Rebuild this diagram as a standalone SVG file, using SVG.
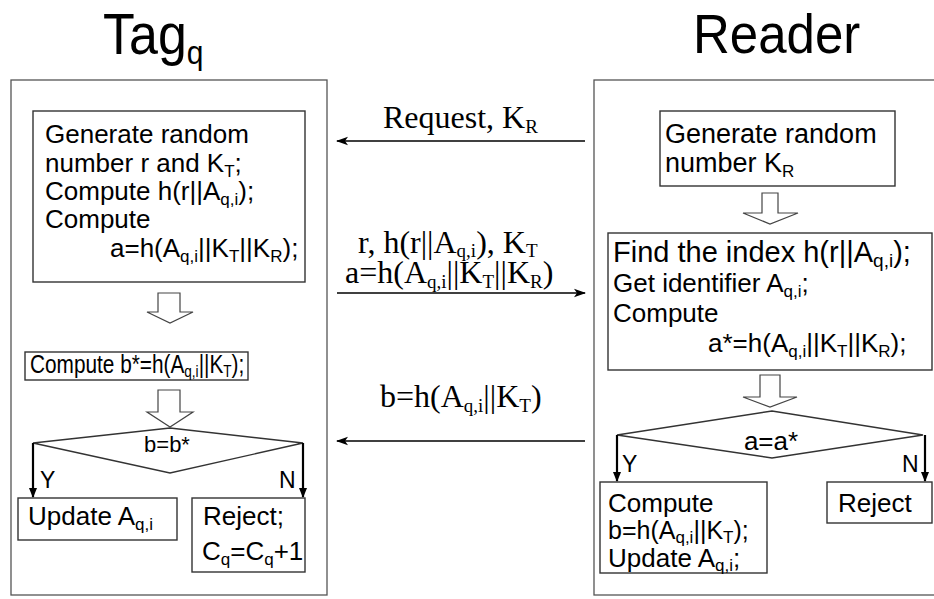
<svg xmlns="http://www.w3.org/2000/svg" width="934" height="599" viewBox="0 0 934 599">
<defs>
<style>
.bg{fill:#fff}
.outer{fill:none;stroke:#555;stroke-width:1.3}
.box{fill:#fff;stroke:#333;stroke-width:1.4}
.blk{fill:#fff;stroke:#444;stroke-width:1.2}
.t{font-family:"Liberation Sans",Arial,sans-serif;font-size:26px;fill:#000}
.tm{font-family:"Liberation Serif","Times New Roman",serif;font-size:32px;fill:#000}
.s{font-size:17px}
.sm{font-size:19px}
.yl{font-size:23px}
.msg{stroke:#000;stroke-width:1.6;fill:none}
.yn{stroke:#000;stroke-width:2.2;fill:none}
.title{font-family:"Liberation Sans",Arial,sans-serif;font-size:52px;fill:#000}
</style>
<marker id="ah" markerWidth="12" markerHeight="10" refX="11" refY="5" orient="auto" markerUnits="userSpaceOnUse">
<path d="M0,0.8 L12,5 L0,9.2 L3,5 Z" fill="#000"/>
</marker>
<marker id="ahd" markerWidth="10" markerHeight="10" refX="9" refY="5" orient="auto" markerUnits="userSpaceOnUse">
<path d="M0,1 L10,5 L0,9 Z" fill="#000"/>
</marker>
</defs>
<rect class="bg" x="0" y="0" width="934" height="599"/>

<g id="title-tag"><text class="title" transform="translate(103,54) scale(1,1.12)" x="0" y="0">Tag<tspan style="font-size:30px" dy="9">q</tspan></text></g>
<g id="title-reader"><text class="title" transform="translate(693,53) scale(1,1.1)" x="0" y="0" style="font-size:51px">Reader</text></g>

<g id="tag-frame"><rect class="outer" x="11" y="80" width="316" height="515"/></g>
<g id="reader-frame"><rect class="outer" x="594" y="80" width="360" height="515"/></g>

<g id="tag-gen">
<rect class="box" x="33" y="111" width="272" height="171"/>
<text class="t" x="45" y="143">Generate random</text>
<text class="t" x="45" y="172">number r and K<tspan class="s" dy="5">T</tspan><tspan dy="-5">;</tspan></text>
<text class="t" x="45" y="200">Compute h(r||A<tspan class="s" dy="5">q,i</tspan><tspan dy="-5">);</tspan></text>
<text class="t" x="45" y="228">Compute</text>
<text class="t" x="110" y="257">a=h(A<tspan class="s" dy="5">q,i</tspan><tspan dy="-5">||K</tspan><tspan class="s" dy="5">T</tspan><tspan dy="-5">||K</tspan><tspan class="s" dy="5">R</tspan><tspan dy="-5">);</tspan></text>
</g>

<g id="tag-bstar">
<rect class="box" x="25" y="352" width="223" height="28"/>
<text class="t" transform="translate(30,373) scale(0.8,1)" x="0" y="0">Compute b*=h(A<tspan class="s" dy="4">q,i</tspan><tspan dy="-4">||K</tspan><tspan class="s" dy="4">T</tspan><tspan dy="-4">);</tspan></text>
</g>

<g id="tag-decision">
<path class="box" d="M33,443 L170,428 L303,443 L170,473 Z"/>
<text class="t" x="167" y="452" style="font-size:22px" text-anchor="middle">b=b*</text>
</g>

<g id="tag-update">
<rect class="box" x="18" y="498" width="159" height="42"/>
<text class="t" x="28" y="525">Update A<tspan class="s" dy="5">q,i</tspan></text>
</g>

<g id="tag-reject">
<rect class="box" x="192" y="498" width="113" height="74"/>
<text class="t" x="203" y="525">Reject;</text>
<text class="t" x="202" y="560">C<tspan class="s" dy="5">q</tspan><tspan dy="-5">=C</tspan><tspan class="s" dy="5">q</tspan><tspan dy="-5">+1</tspan></text>
</g>

<g id="reader-gen">
<rect class="box" x="660" y="111" width="235" height="75"/>
<text class="t" x="665" y="143" style="font-size:27px">Generate random</text>
<text class="t" x="665" y="172" style="font-size:27px">number K<tspan class="s" dy="5">R</tspan></text>
</g>

<g id="reader-find">
<rect class="box" x="608" y="233" width="324" height="137"/>
<text class="t" x="613" y="262" style="font-size:29px">Find the index h(r||A<tspan style="font-size:19px" dy="5">q,i</tspan><tspan dy="-5">);</tspan></text>
<text class="t" x="613" y="292">Get identifier A<tspan class="s" dy="5">q,i</tspan><tspan dy="-5">;</tspan></text>
<text class="t" x="613" y="322">Compute</text>
<text class="t" x="708" y="352">a*=h(A<tspan class="s" dy="5">q,i</tspan><tspan dy="-5">||K</tspan><tspan class="s" dy="5">T</tspan><tspan dy="-5">||K</tspan><tspan class="s" dy="5">R</tspan><tspan dy="-5">);</tspan></text>
</g>

<g id="reader-decision">
<path class="box" d="M617,435 L772,411 L923,435 L772,458 Z"/>
<text class="t" x="771" y="450" text-anchor="middle">a=a*</text>
</g>

<g id="reader-compute">
<rect class="box" x="600" y="482" width="167" height="91"/>
<text class="t" x="608" y="512">Compute</text>
<text class="t" x="608" y="539" style="font-size:25px">b=h(A<tspan class="s" dy="4">q,i</tspan><tspan dy="-4">||K</tspan><tspan class="s" dy="4">T</tspan><tspan dy="-4">);</tspan></text>
<text class="t" x="608" y="567">Update A<tspan class="s" dy="4">q,i</tspan><tspan dy="-4">;</tspan></text>
</g>

<g id="reader-reject">
<rect class="box" x="827" y="482" width="105" height="41"/>
<text class="t" x="838" y="512">Reject</text>
</g>

<g id="connectors">
<path class="blk" d="M158,293 L180,293 L180,312 L193,312 L170,323 L147,312 L158,312 Z"/>
<path class="blk" d="M158,390 L180,390 L180,412 L193,412 L170,427 L147,412 L158,412 Z"/>
<path class="blk" d="M762,193 L778,193 L778,213 L798,213 L770,224 L743,213 L762,213 Z"/>
<path class="blk" d="M760,375 L780,375 L780,397 L797,397 L770,407 L743,397 L760,397 Z"/>

<line class="yn" x1="33" y1="443" x2="33" y2="497" marker-end="url(#ahd)"/>
<line class="yn" x1="303" y1="443" x2="303" y2="497" marker-end="url(#ahd)"/>
<line class="yn" x1="617" y1="435" x2="617" y2="481" marker-end="url(#ahd)"/>
<line class="yn" x1="925" y1="435" x2="925" y2="481" marker-end="url(#ahd)"/>
<text class="t yl" x="40" y="488">Y</text>
<text class="t yl" x="279" y="488">N</text>
<text class="t yl" x="622" y="472">Y</text>
<text class="t yl" x="902" y="472">N</text>

<line class="msg" x1="585" y1="141" x2="337" y2="141" marker-end="url(#ah)"/>
<text class="tm" x="383" y="128">Request, K<tspan class="sm" dy="5">R</tspan></text>

<line class="msg" x1="337" y1="293" x2="585" y2="293" marker-end="url(#ah)"/>
<text class="tm" x="358" y="253">r, h(r||A<tspan class="sm" dy="4">q,i</tspan><tspan dy="-4">), K</tspan><tspan class="sm" dy="4">T</tspan></text>
<text class="tm" x="345" y="283">a=h(A<tspan class="sm" dy="5">q,i</tspan><tspan dy="-5">||K</tspan><tspan class="sm" dy="5">T</tspan><tspan dy="-5">||K</tspan><tspan class="sm" dy="5">R</tspan><tspan dy="-5">)</tspan></text>

<line class="msg" x1="585" y1="441" x2="337" y2="441" marker-end="url(#ah)"/>
<text class="tm" x="380" y="407">b=h(A<tspan class="sm" dy="5">q,i</tspan><tspan dy="-5">||K</tspan><tspan class="sm" dy="5">T</tspan><tspan dy="-5">)</tspan></text>
</g>
</svg>
